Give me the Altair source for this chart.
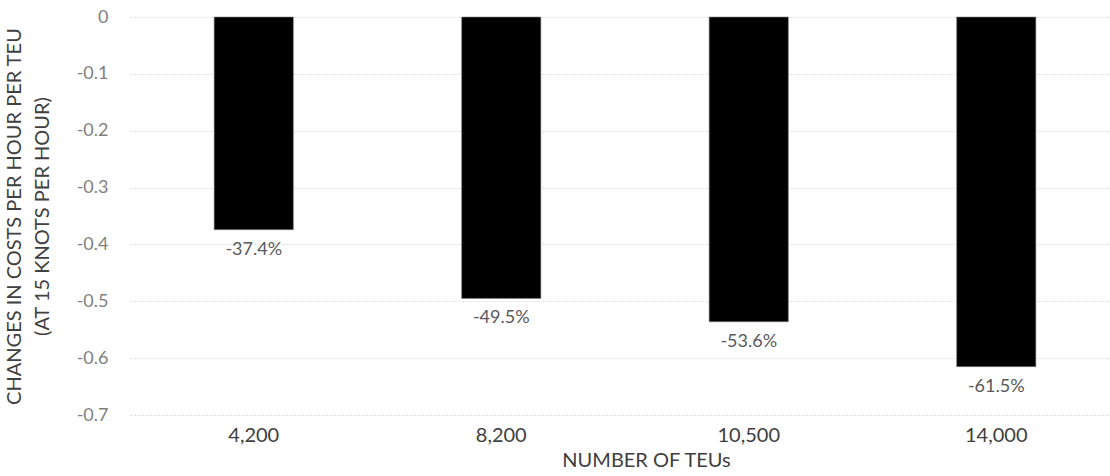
import altair as alt
import pandas as pd

categories = ["4,200", "8,200", "10,500", "14,000"]
values = [-0.374, -0.495, -0.536, -0.615]
labels = ["-37.4%", "-49.5%", "-53.6%", "-61.5%"]

df = pd.DataFrame({"teu": categories, "value": values, "label": labels})

FONT = "Lato"

x = alt.X("teu:N", sort=categories,
          scale=alt.Scale(range=[0, 990], paddingInner=0.68, paddingOuter=0.34),
          axis=alt.Axis(title="NUMBER OF TEUs", labelAngle=0, domain=False, ticks=False, grid=False,
                        labelPadding=10, labelFontSize=20, labelColor="#404040",
                        titleFontSize=20, titleColor="#404040", titleFontWeight="normal",
                        titlePadding=5, titleX=516, titleAnchor="middle"))

y = alt.Y("value:Q",
          scale=alt.Scale(domain=[-0.7, 0], nice=False, zero=True),
          axis=alt.Axis(values=[0, -0.1, -0.2, -0.3, -0.4, -0.5, -0.6, -0.7],
                        labelExpr="datum.value == 0 ? '0' : replace(format(datum.value, '.1f'), '\u2212', '-')",
                        title=["CHANGES IN COSTS PER HOUR PER TEU", "(AT 15 KNOTS PER HOUR)"],
                        domain=False, ticks=False,
                        labelPadding=22, labelFontSize=18,
                        labelColor="#7f7f7f", titleFontSize=20, titleColor="#404040",
                        titleFontWeight="normal", titlePadding=24, titleLineHeight=28,
                        grid=True, gridColor="#d9d9d9", gridDash=[2, 2], gridWidth=1))

bars = alt.Chart(df).mark_bar(color="black", stroke="#7f7f7f", strokeWidth=0.6).encode(x=x, y=y)

text = alt.Chart(df).mark_text(baseline="top", dy=11, fontSize=18, color="#595959", font=FONT).encode(
    x=x, y=y, text="label:N")

chart = (bars + text).properties(
    width=980, height=398,
    autosize=alt.AutoSizeParams(type="none"),
    padding={"left": 130, "top": 17, "right": 0, "bottom": 61},
    view=alt.ViewBackground(stroke="transparent", strokeWidth=0),
).configure_view(strokeWidth=0, stroke="transparent").configure_axisX(
    grid=False, domain=False, ticks=False
).configure_axisY(domain=False, ticks=False).configure(font=FONT)

chart.save("out.html", embed_options={"renderer": "svg", "actions": False})
